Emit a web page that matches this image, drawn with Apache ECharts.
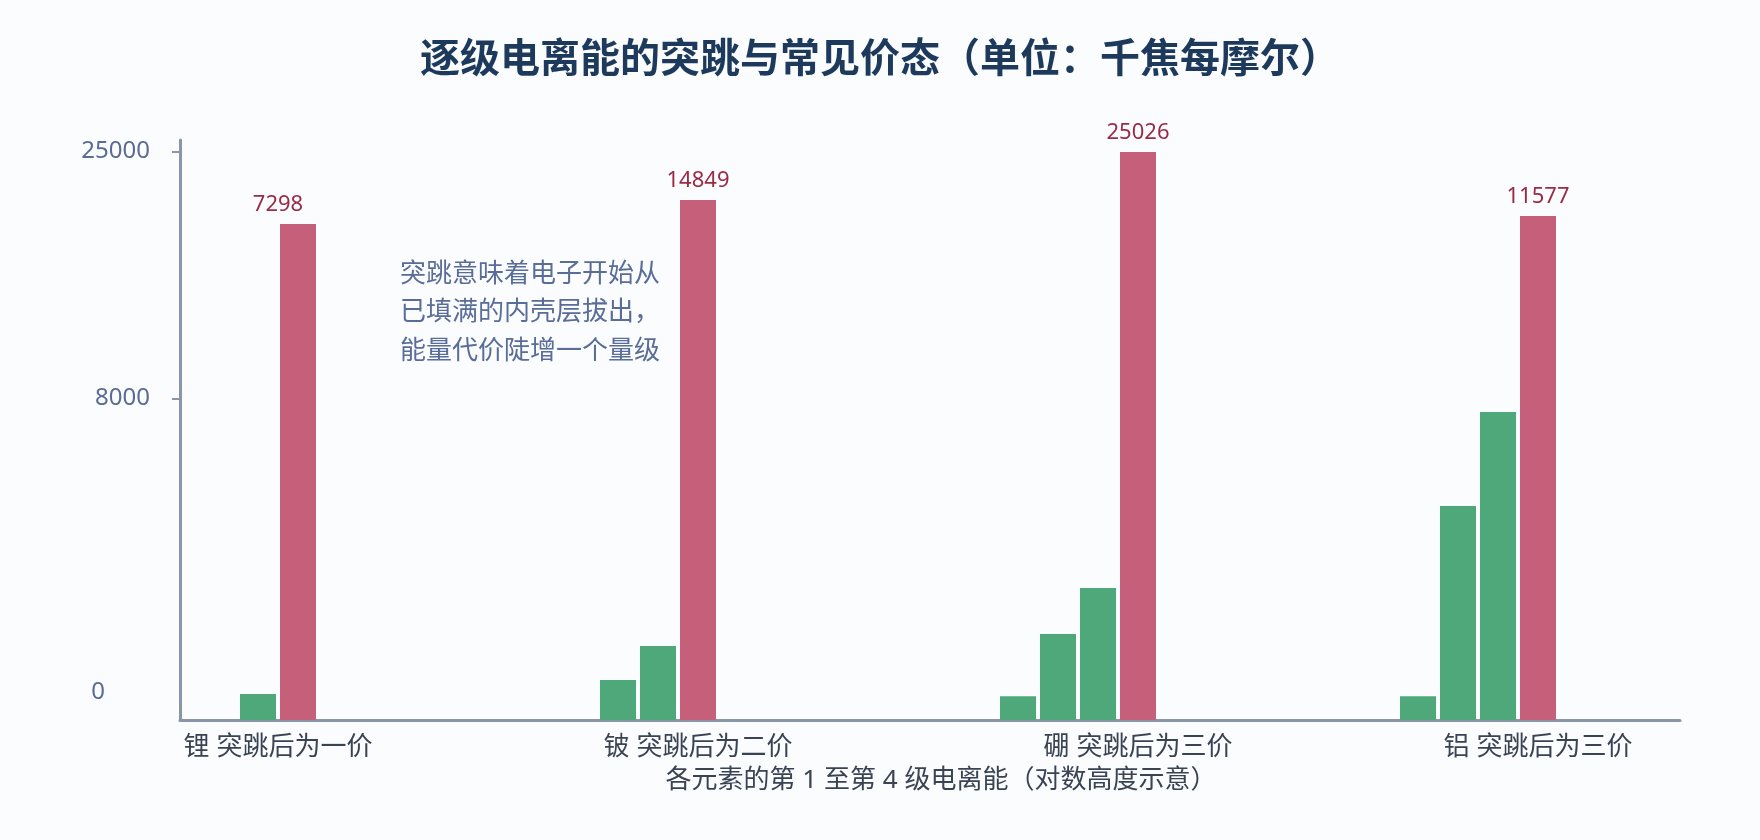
<!DOCTYPE html>
<html>
<head>
<meta charset="utf-8">
<script src="https://cdn.jsdelivr.net/npm/echarts@6/dist/echarts.min.js"></script>
<style>
    html, body { margin: 0; padding: 0; background: #fbfcfe; }
    #main { width: 1760px; height: 840px; }
</style>
</head>
<body>
<div id="main"></div>
<script>
// 数据：条的位置（槽位）与高度（按平方根刻度读出的数值）
var elements = ['锂 突跳后为一价', '铍 突跳后为二价', '硼 突跳后为三价', '铝 突跳后为三价'];
var labelSlots = [1.5, 12, 23, 33];
var greenSlots = [1, 10, 11, 20, 21, 22, 30, 31, 32];
var greenHeights = [52, 124, 423, 44, 572, 1347, 44, 3539, 7332];
var jumpSlots = [2, 12, 23, 33];
var jumpHeights = [19015, 20900, 24935, 19633];
var jumpLabels = ['7298', '14849', '25026', '11577'];
var yTicks = [0, 8000, 25000];
var yMax = 26000;
var note = ['突跳意味着电子开始从', '已填满的内壳层拔出，', '能量代价陡增一个量级'];

(function () {
    var myChart = echarts.init(document.getElementById('main'));
    var font = '"Noto Sans", "Noto Sans CJK SC", sans-serif';

    var greenData = greenSlots.map(function (x, i) {
        return [x, Math.sqrt(greenHeights[i])];
    });
    var jumpData = jumpSlots.map(function (x, i) {
        return [x, Math.sqrt(jumpHeights[i])];
    });
    // 透明柱只用来放数值标签
    var labelData = labelSlots.map(function (x, i) {
        return { value: [x, Math.sqrt(jumpHeights[i])], text: jumpLabels[i] };
    });

    var option = {
        backgroundColor: '#fbfcfe',
        textStyle: { fontFamily: font },
        title: {
            text: '逐级电离能的突跳与常见价态（单位：千焦每摩尔）',
            left: 'center',
            top: 36,
            textStyle: {
                fontFamily: font,
                fontSize: 40,
                fontWeight: 'bold',
                color: '#1d3a5c'
            }
        },
        grid: {
            left: 180,
            right: 80,
            top: 140,
            bottom: 120
        },
        xAxis: {
            type: 'value',
            min: -0.95,
            max: 36.55,
            name: '各元素的第 1 至第 4 级电离能（对数高度示意）',
            nameLocation: 'middle',
            nameGap: 48,
            nameTextStyle: {
                fontFamily: font,
                fontSize: 26,
                color: '#3a4353',
                padding: [0, 0, 0, 22]
            },
            axisLine: {
                onZero: false,
                lineStyle: { color: '#8896a8', width: 3 }
            },
            axisTick: { show: false },
            splitLine: { show: false },
            axisLabel: {
                customValues: labelSlots,
                margin: 15,
                fontFamily: font,
                fontSize: 26,
                color: '#3a4353',
                formatter: function (v) {
                    var i = labelSlots.indexOf(v);
                    return i < 0 ? '' : elements[i];
                }
            }
        },
        yAxis: {
            type: 'value',
            min: 0,
            max: Math.sqrt(yMax),
            axisLine: {
                show: true,
                onZero: false,
                lineStyle: { color: '#8896a8', width: 3 }
            },
            axisTick: {
                show: true,
                length: 8,
                customValues: [Math.sqrt(yTicks[1]), Math.sqrt(yTicks[2])],
                lineStyle: { color: '#8896a8', width: 2 }
            },
            splitLine: { show: false },
            axisLabel: {
                customValues: yTicks.map(function (t) { return Math.sqrt(t); }),
                margin: 30,
                fontFamily: font,
                fontSize: 24,
                color: '#5a6b94',
                formatter: function (v) {
                    var t = Math.round(v * v);
                    if (t === 0) {
                        return '{zero|0}';
                    }
                    return String(t);
                },
                rich: {
                    zero: {
                        fontFamily: font,
                        fontSize: 24,
                        color: '#5a6b94',
                        padding: [0, 45, 56, 0]
                    }
                }
            }
        },
        graphic: [
            {
                type: 'text',
                left: 400,
                top: 255,
                style: {
                    text: note.join('\n'),
                    font: '26px "Noto Sans", "Noto Sans CJK SC"',
                    lineHeight: 38.5,
                    fill: '#5a6d98'
                }
            }
        ],
        series: [
            {
                name: '前几级电离能',
                type: 'bar',
                barWidth: 36,
                barGap: '-100%',
                itemStyle: { color: '#4fa87a' },
                data: greenData
            },
            {
                name: '突跳',
                type: 'bar',
                barWidth: 36,
                barGap: '-100%',
                itemStyle: { color: '#c65f79' },
                data: jumpData
            },
            {
                name: '数值',
                type: 'bar',
                barWidth: 36,
                barGap: '-100%',
                silent: true,
                itemStyle: { color: 'rgba(0,0,0,0)' },
                label: {
                    show: true,
                    position: 'top',
                    distance: 8,
                    fontFamily: font,
                    fontSize: 22,
                    color: '#9a2b45',
                    formatter: function (p) {
                        return p.data.text;
                    }
                },
                data: labelData
            }
        ]
    };

    myChart.setOption(option);

    window.addEventListener('resize', function () {
        myChart.resize();
    });
})();
</script>
</body>
</html>
